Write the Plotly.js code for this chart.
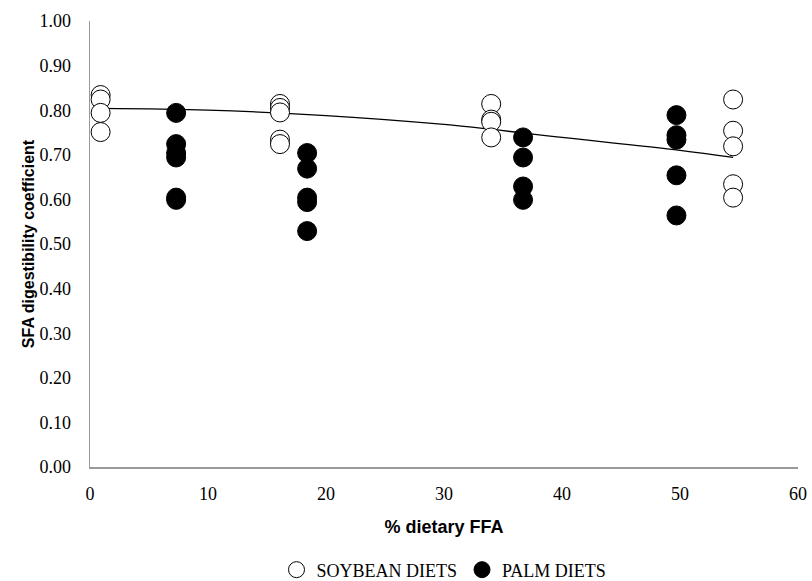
<!DOCTYPE html>
<html><head><meta charset="utf-8">
<script src="https://cdn.plot.ly/plotly-3.0.1.min.js"></script>
<style>
html,body{margin:0;padding:0;background:#fff}#chart{width:812px;height:581px}
#chart .xtick text, #chart .ytick text{font-family:'Liberation Serif','Times New Roman',serif !important;}
</style>
</head><body><div id="chart"></div>
<script>
var soyX = [0.9,0.9,0.9,0.9, 16.1,16.1,16.1,16.1,16.1, 34.0,34.0,34.0,34.0, 54.5,54.5,54.5,54.5,54.5];
var soyY = [0.834,0.824,0.794,0.751, 0.814,0.805,0.795,0.734,0.724, 0.814,0.779,0.774,0.739, 0.824,0.754,0.719,0.634,0.604];
var palmX = [7.3,7.3,7.3,7.3,7.3,7.3, 18.4,18.4,18.4,18.4,18.4, 36.7,36.7,36.7,36.7, 49.7,49.7,49.7,49.7,49.7];
var palmY = [0.794,0.724,0.704,0.694,0.604,0.599, 0.704,0.669,0.604,0.594,0.529, 0.739,0.694,0.629,0.599, 0.789,0.744,0.734,0.654,0.564];
var fitX = [0.9, 10, 20, 30, 40, 50, 54.5];
var fitY = [0.804, 0.800, 0.788, 0.768, 0.739, 0.710, 0.694];
var xTickStep = 10;
var yTickStep = 0.1;

var serif = 'Liberation Serif';
var sans = 'Liberation Sans';

var traces = [
  {x: fitX, y: fitY, mode: 'lines', line: {color: '#000', width: 1.3, shape: 'spline'}, showlegend: false, hoverinfo: 'skip'},
  {x: soyX, y: soyY, mode: 'markers', name: 'SOYBEAN DIETS',
   marker: {size: 19, color: '#fff', line: {color: '#000', width: 1}}},
  {x: palmX, y: palmY, mode: 'markers', name: 'PALM DIETS',
   marker: {size: 19, color: '#000', line: {color: '#000', width: 1}}}
];

var layout = {
  width: 812, height: 581,
  font: {family: serif, size: 18, color: '#000'},
  margin: {l: 90, r: 14, t: 21, b: 114, autoexpand: false},
  paper_bgcolor: '#fff', plot_bgcolor: '#fff',
  showlegend: true,
  legend: {orientation: 'h', x: 0.5, xanchor: 'center', yref: 'container', y: 0.019, yanchor: 'middle',
           font: {family: serif, size: 18, color: '#000'}, tracegroupgap: 0},
  xaxis: {range: [0, 60], tickmode: 'linear', tick0: 0, dtick: xTickStep,
          showgrid: false, zeroline: false, showline: true, linecolor: '#999', linewidth: 1.5,
          ticks: '', ticklabelstandoff: 10, tickfont: {family: serif, size: 18, color: '#000'},
          title: {text: '<b>% dietary FFA</b>', font: {family: sans, size: 18, color: '#000'}, standoff: 17}},
  yaxis: {range: [0, 1.0], tickmode: 'linear', tick0: 0, dtick: yTickStep, tickformat: '.2f',
          showgrid: false, zeroline: false, showline: true, linecolor: '#999', linewidth: 1.5,
          ticks: '', ticklabelstandoff: 14, tickfont: {family: serif, size: 18, color: '#000'},
          title: {text: '<b>SFA digestibility coefficient</b>', font: {family: sans, size: 16, color: '#000'}, standoff: 1}}
};

Plotly.newPlot('chart', traces, layout, {displayModeBar: false, staticPlot: true});
</script>
</body></html>
